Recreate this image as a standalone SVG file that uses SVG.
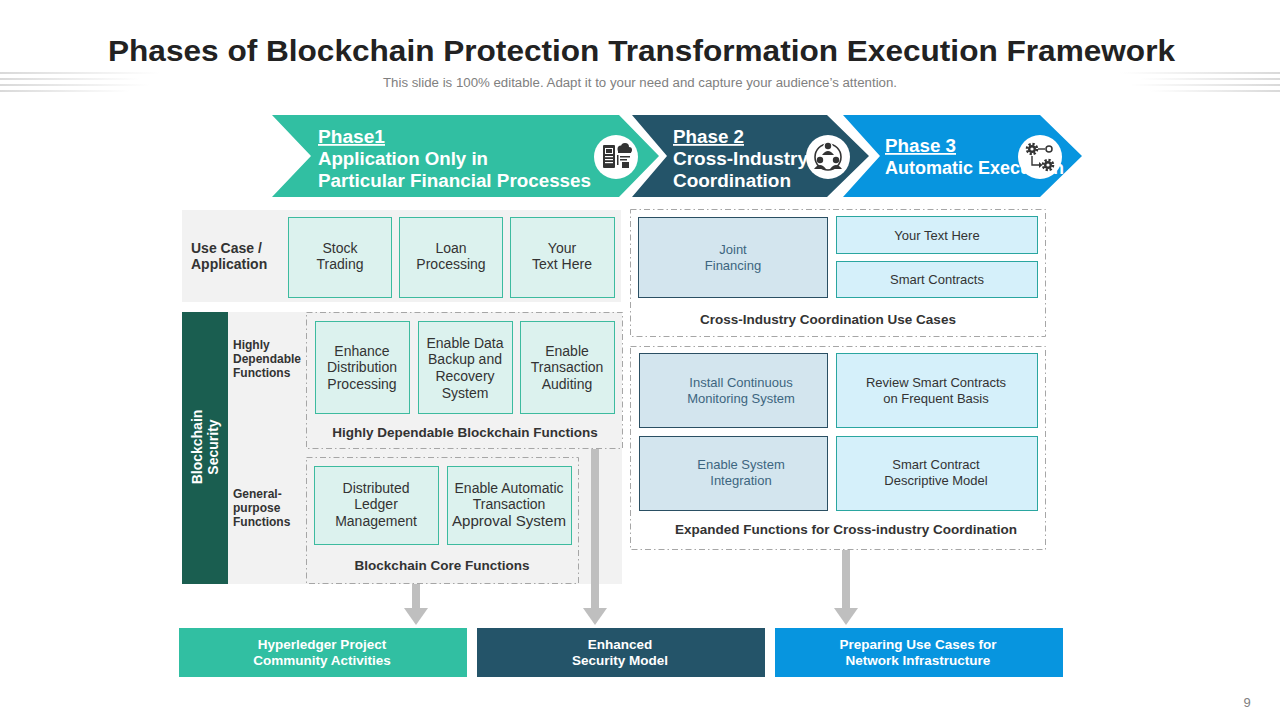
<svg xmlns="http://www.w3.org/2000/svg" width="1280" height="720" viewBox="0 0 1280 720">
<defs>
<style>
.title{font-family:"Liberation Sans",Arial,sans-serif;font-weight:bold;fill:#222}
.sub{font-family:"Liberation Sans",Arial,sans-serif;fill:#808080}
.ph{font-family:"Liberation Sans",Arial,sans-serif;font-weight:bold;font-size:18px;fill:#fff}
.mint{fill:#dcf2ee;stroke:#3dbb9f;stroke-width:1}
.steel{fill:#d3e5ee;stroke:#2a4f63;stroke-width:1}
.cyan{fill:#d5f0fa;stroke:#2aa6a0;stroke-width:1}
.t14{font-family:"Liberation Sans",Arial,sans-serif;font-size:14px;fill:#333;text-anchor:middle}
.t13{font-family:"Liberation Sans",Arial,sans-serif;font-size:13px;fill:#333;text-anchor:middle}
.t13b{font-family:"Liberation Sans",Arial,sans-serif;font-size:13px;fill:#3d6580;text-anchor:middle}
.cap{font-family:"Liberation Sans",Arial,sans-serif;font-size:13.5px;font-weight:bold;fill:#333;text-anchor:middle}
.lbl{font-family:"Liberation Sans",Arial,sans-serif;font-size:12px;font-weight:bold;fill:#333}
.lbl14{font-family:"Liberation Sans",Arial,sans-serif;font-size:14px;font-weight:bold;fill:#333}
.vert{font-family:"Liberation Sans",Arial,sans-serif;font-size:14px;font-weight:bold;fill:#fff;text-anchor:middle}
.bot{font-family:"Liberation Sans",Arial,sans-serif;font-size:13.5px;font-weight:bold;fill:#fff;text-anchor:middle}
.dash{fill:none;stroke:#a6a6a6;stroke-width:1;stroke-dasharray:6 3 1.5 3}
.dashw{fill:#fff;stroke:#a6a6a6;stroke-width:1;stroke-dasharray:6 3 1.5 3}
.gray{fill:#f2f2f2}
.icon{fill:#333}
.conn{stroke:#bfbfbf;stroke-width:8;fill:none}
</style>
<linearGradient id="fl" x1="0" y1="0" x2="1" y2="0">
<stop offset="0" stop-color="#d9d9d9"/><stop offset="1" stop-color="#d9d9d9" stop-opacity="0"/>
</linearGradient>
<linearGradient id="fr" x1="1" y1="0" x2="0" y2="0">
<stop offset="0" stop-color="#d9d9d9"/><stop offset="1" stop-color="#d9d9d9" stop-opacity="0"/>
</linearGradient>
<marker id="ah" markerUnits="userSpaceOnUse" markerWidth="17" markerHeight="24" refX="0" refY="12" orient="auto">
<path d="M0,0 L17,12 L0,24 z" fill="#bfbfbf"/>
</marker>
<clipPath id="c3"><polygon points="843,115 1040,115 1082,156 1040,197 843,197 880,156"/></clipPath>
<g id="gear">
<circle r="5" fill="none" stroke="#333" stroke-width="2.6" stroke-dasharray="2.2 1.7"/>
<circle r="4" fill="#333"/>
<circle r="1.6" fill="#fff"/>
</g>
</defs>
<rect width="1280" height="720" fill="#fff"/>

<g id="header">
<rect x="0" y="72" width="160" height="2" fill="url(#fl)"/>
<rect x="0" y="78" width="140" height="2" fill="url(#fl)"/>
<rect x="0" y="84" width="150" height="2" fill="url(#fl)"/>
<rect x="0" y="90" width="130" height="2" fill="url(#fl)"/>
<rect x="1120" y="72" width="160" height="2" fill="url(#fr)"/>
<rect x="1140" y="78" width="140" height="2" fill="url(#fr)"/>
<rect x="1130" y="84" width="150" height="2" fill="url(#fr)"/>
<rect x="1150" y="90" width="130" height="2" fill="url(#fr)"/>
<text class="title" x="108" y="61" font-size="29" textLength="1067" lengthAdjust="spacingAndGlyphs">Phases of Blockchain Protection Transformation Execution Framework</text>
<text class="sub" x="383" y="87" font-size="12" textLength="514" lengthAdjust="spacingAndGlyphs">This slide is 100% editable. Adapt it to your need and capture your audience’s attention.</text>
</g>

<g id="phase1">
<polygon points="272,115 619,115 659,156 619,197 272,197 311,156" fill="#31bfa2"/>
<text class="ph" x="318" y="143" text-decoration="underline" textLength="67" lengthAdjust="spacingAndGlyphs">Phase1</text>
<text class="ph" x="318" y="165" textLength="170" lengthAdjust="spacingAndGlyphs">Application Only in</text>
<text class="ph" x="318" y="187" textLength="273" lengthAdjust="spacingAndGlyphs">Particular Financial Processes</text>
<circle cx="616" cy="157" r="22" fill="#fff"/>
<g class="icon">
<rect x="603" y="145" width="12" height="23" rx="1"/>
<rect x="605" y="148" width="8" height="6" fill="#fff"/>
<rect x="606" y="149" width="6" height="4"/>
<rect x="605" y="156" width="8" height="1.2" fill="#fff"/>
<rect x="605" y="159" width="8" height="1.2" fill="#fff"/>
<rect x="605" y="162" width="8" height="1.2" fill="#fff"/>
<circle cx="621" cy="149" r="3.5"/><circle cx="625" cy="147" r="4"/><circle cx="629" cy="150" r="3"/>
<rect x="618" y="150" width="13" height="3"/>
<rect x="617" y="155" width="1.5" height="10"/>
<rect x="620" y="156" width="10" height="1.5"/>
<rect x="620" y="159" width="7" height="1.5"/>
<rect x="622" y="162" width="7" height="6"/>
</g>
</g>

<g id="phase2">
<polygon points="632,115 827,115 869,156 827,197 632,197 667,156" fill="#245469"/>
<text class="ph" x="673" y="143" text-decoration="underline" textLength="71" lengthAdjust="spacingAndGlyphs">Phase 2</text>
<text class="ph" x="673" y="165" textLength="135" lengthAdjust="spacingAndGlyphs">Cross-Industry</text>
<text class="ph" x="673" y="187" textLength="118" lengthAdjust="spacingAndGlyphs">Coordination</text>
<circle cx="828" cy="157" r="22" fill="#fff"/>
<circle cx="828" cy="157" r="13" fill="none" stroke="#333" stroke-width="1.6"/>
<g class="icon">
<circle cx="828" cy="147" r="5" fill="#fff"/>
<circle cx="828" cy="146" r="3.2"/>
<path d="M822,155 Q828,147 834,155 z"/>
<circle cx="820" cy="160" r="3.2"/>
<path d="M814,169 Q820,161 826,169 z"/>
<circle cx="836" cy="160" r="3.2"/>
<path d="M830,169 Q836,161 842,169 z"/>
</g>
</g>

<g id="phase3">
<polygon points="843,115 1040,115 1082,156 1040,197 843,197 880,156" fill="#0795df"/>
<g clip-path="url(#c3)">
<text class="ph" x="885" y="152" text-decoration="underline" textLength="71" lengthAdjust="spacingAndGlyphs">Phase 3</text>
<text class="ph" x="885" y="174">Automatic Execution</text>
</g>
<circle cx="1040" cy="157" r="22" fill="#fff"/>
<use href="#gear" x="1032" y="149"/>
<use href="#gear" x="1048" y="165"/>
<circle cx="1049" cy="149" r="3" fill="none" stroke="#333" stroke-width="1.5"/>
<line x1="1038" y1="149" x2="1045" y2="149" stroke="#333" stroke-width="1.4"/>
<path d="M1032,156 L1032,165 L1039,165" fill="none" stroke="#333" stroke-width="1.4"/>
<path d="M1039,162 L1042.5,165 L1039,168 z" fill="#333"/>
</g>

<g id="usecase">
<rect class="gray" x="182" y="210" width="439" height="92"/>
<text class="lbl14" x="191" y="253">Use Case /</text>
<text class="lbl14" x="191" y="269">Application</text>
</g>
<g id="stock-trading">
<rect class="mint" x="288.5" y="217.5" width="103" height="80"/>
<text class="t14" x="340" y="253">Stock</text><text class="t14" x="340" y="269">Trading</text>
</g>
<g id="loan-processing">
<rect class="mint" x="399.5" y="217.5" width="103" height="80"/>
<text class="t14" x="451" y="253">Loan</text><text class="t14" x="451" y="269">Processing</text>
</g>
<g id="your-text-1">
<rect class="mint" x="510.5" y="217.5" width="104" height="80"/>
<text class="t14" x="562" y="253">Your</text><text class="t14" x="562" y="269">Text Here</text>
</g>

<g id="blockchain-security">
<rect class="gray" x="228" y="312" width="394" height="272"/>
<rect x="182" y="312" width="46" height="272" fill="#1a5e50"/>
<g transform="translate(205,447) rotate(-90)">
<text class="vert" x="0" y="-3">Blockchain</text>
<text class="vert" x="0" y="13">Security</text>
</g>
<text class="lbl" x="233" y="349">Highly</text>
<text class="lbl" x="233" y="363">Dependable</text>
<text class="lbl" x="233" y="377">Functions</text>
<text class="lbl" x="233" y="498">General-</text>
<text class="lbl" x="233" y="512">purpose</text>
<text class="lbl" x="233" y="526">Functions</text>
</g>

<g id="highly-dependable">
<rect class="dash" x="306.5" y="312.5" width="316" height="136"/>
<text class="cap" x="465" y="437">Highly Dependable Blockchain Functions</text>
</g>
<g id="enhance-distribution">
<rect class="mint" x="315.5" y="321.5" width="94" height="92"/>
<text class="t14" x="362" y="356">Enhance</text><text class="t14" x="362" y="372">Distribution</text><text class="t14" x="362" y="389">Processing</text>
</g>
<g id="data-backup">
<rect class="mint" x="418.5" y="321.5" width="94" height="92"/>
<text class="t14" x="465" y="348">Enable Data</text><text class="t14" x="465" y="364">Backup and</text><text class="t14" x="465" y="381">Recovery</text><text class="t14" x="465" y="398">System</text>
</g>
<g id="transaction-auditing">
<rect class="mint" x="520.5" y="321.5" width="94" height="92"/>
<text class="t14" x="567" y="356">Enable</text><text class="t14" x="567" y="372">Transaction</text><text class="t14" x="567" y="389">Auditing</text>
</g>

<g id="core-functions">
<rect class="dash" x="306.5" y="457.5" width="272" height="126"/>
<text class="cap" x="442" y="570">Blockchain Core Functions</text>
</g>
<g id="distributed-ledger">
<rect class="mint" x="314.5" y="466.5" width="124" height="78"/>
<text class="t14" x="376" y="493">Distributed</text><text class="t14" x="376" y="509">Ledger</text><text class="t14" x="376" y="526">Management</text>
</g>
<g id="auto-approval">
<rect class="mint" x="447.5" y="466.5" width="124" height="78"/>
<text class="t14" x="509" y="493" textLength="109" lengthAdjust="spacingAndGlyphs">Enable Automatic</text><text class="t14" x="509" y="509">Transaction</text><text class="t14" x="509" y="526" textLength="114" lengthAdjust="spacingAndGlyphs">Approval System</text>
</g>

<g id="cross-industry-use-cases">
<rect class="dashw" x="630.5" y="209.5" width="415" height="127"/>
<text class="cap" x="828" y="324">Cross-Industry Coordination Use Cases</text>
</g>
<g id="joint-financing">
<rect class="steel" x="638.5" y="217.5" width="189" height="80"/>
<text class="t13b" x="733" y="254">Joint</text><text class="t13b" x="733" y="270">Financing</text>
</g>
<g id="your-text-2">
<rect class="cyan" x="836.5" y="216.5" width="201" height="37"/>
<text class="t13" x="937" y="240">Your Text Here</text>
</g>
<g id="smart-contracts">
<rect class="cyan" x="836.5" y="261.5" width="201" height="36"/>
<text class="t13" x="937" y="284">Smart Contracts</text>
</g>

<g id="expanded-functions">
<rect class="dashw" x="630.5" y="346.5" width="415" height="203"/>
<text class="cap" x="846" y="534">Expanded Functions for Cross-industry Coordination</text>
</g>
<g id="continuous-monitoring">
<rect class="steel" x="639.5" y="353.5" width="188" height="74"/>
<text class="t13b" x="741" y="387">Install Continuous</text><text class="t13b" x="741" y="403">Monitoring System</text>
</g>
<g id="review-contracts">
<rect class="cyan" x="836.5" y="353.5" width="201" height="74"/>
<text class="t13" x="936" y="387">Review Smart Contracts</text><text class="t13" x="936" y="403">on Frequent Basis</text>
</g>
<g id="system-integration">
<rect class="steel" x="639.5" y="436.5" width="188" height="74"/>
<text class="t13b" x="741" y="469">Enable System</text><text class="t13b" x="741" y="485">Integration</text>
</g>
<g id="descriptive-model">
<rect class="cyan" x="836.5" y="436.5" width="201" height="74"/>
<text class="t13" x="936" y="469">Smart Contract</text><text class="t13" x="936" y="485">Descriptive Model</text>
</g>

<g id="connectors">
<line class="conn" x1="416" y1="584" x2="416" y2="608" marker-end="url(#ah)"/>
<line class="conn" x1="595" y1="449" x2="595" y2="608" marker-end="url(#ah)"/>
<line class="conn" x1="846" y1="550" x2="846" y2="608" marker-end="url(#ah)"/>
</g>

<g id="hyperledger">
<rect x="179" y="628" width="288" height="49" fill="#31bfa2"/>
<text class="bot" x="322" y="649">Hyperledger Project</text><text class="bot" x="322" y="665">Community Activities</text>
</g>
<g id="security-model">
<rect x="477" y="628" width="288" height="49" fill="#245469"/>
<text class="bot" x="620" y="649">Enhanced</text><text class="bot" x="620" y="665">Security Model</text>
</g>
<g id="network-infra">
<rect x="775" y="628" width="288" height="49" fill="#0795df"/>
<text class="bot" x="918" y="649">Preparing Use Cases for</text><text class="bot" x="918" y="665">Network Infrastructure</text>
</g>

<text x="1247" y="707" font-family="Liberation Sans, Arial, sans-serif" font-size="13" fill="#808080" text-anchor="middle">9</text>
</svg>
